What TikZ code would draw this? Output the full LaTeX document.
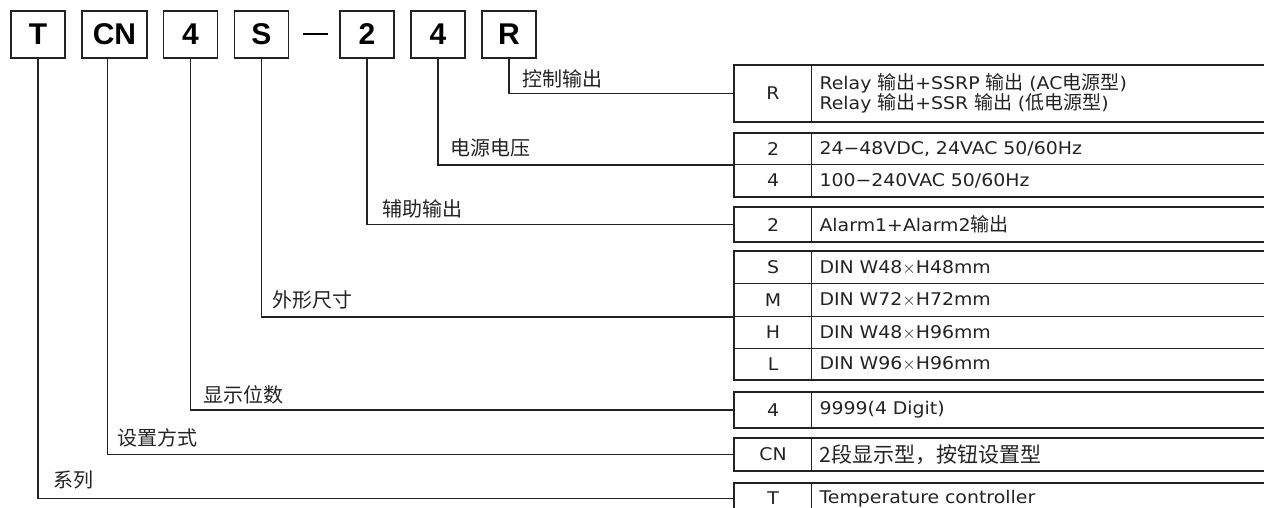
\documentclass[tikz,border=0pt]{standalone}
\usepackage{fontspec}
\setmainfont[FakeStretch=1.08]{DejaVu Sans}
\newfontfamily\zhfont{Noto Sans CJK SC}
\newfontfamily\codefont{Liberation Sans}
\newcommand{\zh}[1]{{\zhfont\fontsize{19}{20}\selectfont #1}}
\definecolor{ink}{HTML}{232323}

\begin{document}
\begin{tikzpicture}[x=1pt, y=-1pt, code/.style={draw=ink, line width=1.8pt, minimum width=54pt, minimum height=47pt, inner sep=0pt, font=\codefont\bfseries\fontsize{30}{30}\selectfont}, keycell/.style={draw=ink, line width=1.1pt, anchor=north west, minimum width=77pt, inner sep=0pt, text=ink, font=\fontsize{17.5}{20}\selectfont}, desc/.style={draw=ink, line width=1.1pt, anchor=north west, minimum width=540pt, text width=524pt, align=left, inner xsep=8pt, inner ysep=0pt, text=ink, font=\fontsize{17.5}{20}\selectfont}, lab/.style={anchor=base west, inner sep=0pt, text=ink, font=\zhfont\fontsize{20}{20}\selectfont}, n/.style={draw=ink, line width=1.3pt}, frame/.style={draw=ink, line width=2.4pt}]
            \useasboundingbox (0,0) rectangle (1264,508);
            \clip (0,0) rectangle (1264,508);
            % code boxes
            \node[code] (codeT) at (38,34.5) {T};
            \node[code, minimum width=65pt] (codeCN) at (114.5,34.5) {CN};
            \node[code] (codeD) at (190.5,34.5) {4};
            \node[code] (codeS) at (261.5,34.5) {S};
            \node[inner sep=0pt] (dash) at (315.5,34) {\rule{25pt}{2.6pt}};
            \node[code] (codeA) at (367,34.5) {2};
            \node[code] (codeV) at (438,34.5) {4};
            \node[code] (codeR) at (509,34.5) {R};

            % tables
            \node[keycell, minimum height=56pt] (keyR) at (734,65) {R};
            \node[desc, minimum height=56pt] (descR) at (811,65) {Relay \zh{输出}+SSRP \zh{输出} (AC\zh{电源型})\\Relay \zh{输出}+SSR \zh{输出} (\zh{低电源型})};

            \node[keycell, minimum height=31pt] (keyV2) at (734,133) {2};
            \node[desc, minimum height=31pt] (descV2) at (811,133) {24−48VDC, 24VAC 50/60Hz};
            \node[keycell, minimum height=32pt] (keyV4) at (734,164) {4};
            \node[desc, minimum height=32pt] (descV4) at (811,164) {100−240VAC 50/60Hz};

            \node[keycell, minimum height=34pt] (keyA) at (734,207) {2};
            \node[desc, minimum height=34pt] (descA) at (811,207) {Alarm1+Alarm2\zh{输出}};

            \node[keycell, minimum height=32pt] (keyS) at (734,251) {S};
            \node[desc, minimum height=32pt] (descS) at (811,251) {DIN W48$\times$H48mm};
            \node[keycell, minimum height=33pt] (keyM) at (734,283) {M};
            \node[desc, minimum height=33pt] (descM) at (811,283) {DIN W72$\times$H72mm};
            \node[keycell, minimum height=32pt] (keyH) at (734,316) {H};
            \node[desc, minimum height=32pt] (descH) at (811,316) {DIN W48$\times$H96mm};
            \node[keycell, minimum height=31pt] (keyL) at (734,348) {L};
            \node[desc, minimum height=31pt] (descL) at (811,348) {DIN W96$\times$H96mm};

            \node[keycell, minimum height=35pt] (keyD) at (734,392) {4};
            \node[desc, minimum height=35pt] (descD) at (811,392) {9999(4 Digit)};

            \node[keycell, minimum height=32pt] (keyCN) at (734,438) {CN};
            \node[desc, minimum height=32pt] (descCN) at (811,438) {{\zhfont\fontsize{21}{21}\selectfont 2段显示型，按钮设置型}};

            \node[keycell, minimum height=30pt] (keyT) at (734,483) {T};
            \node[desc, minimum height=30pt] (descT) at (811,483) {Temperature controller};

            % outer frames
            \draw[frame] (keyR.north west) rectangle (descR.south east);
            \draw[frame] (keyV2.north west) rectangle (descV4.south east);
            \draw[frame] (keyA.north west) rectangle (descA.south east);
            \draw[frame] (keyS.north west) rectangle (descL.south east);
            \draw[frame] (keyD.north west) rectangle (descD.south east);
            \draw[frame] (keyCN.north west) rectangle (descCN.south east);
            \draw[frame] (keyT.north west) rectangle (descT.south east);

            % labels
            \node[lab] (labR) at (522,87) {控制输出};
            \node[lab] (labV) at (450,156) {电源电压};
            \node[lab] (labA) at (382,216) {辅助输出};
            \node[lab] (labS) at (272,307) {外形尺寸};
            \node[lab] (labD) at (203,402) {显示位数};
            \node[lab] (labCN) at (117,445) {设置方式};
            \node[lab] (labT) at (53,487) {系列};

            % connectors
            \draw[n] (codeR.south) |- (keyR.west);
            \draw[n] (codeV.south) |- (keyV2.south west);
            \draw[n] (codeA.south) |- (keyA.west);
            \draw[n] (codeS.south) |- (keyM.south west);
            \draw[n] (codeD.south) |- (keyD.west);
            \draw[n] ([xshift=-7pt]codeCN.south) |- (keyCN.west);
            \draw[n] (codeT.south) |- (keyT.west);
        \end{tikzpicture}
\end{document}
